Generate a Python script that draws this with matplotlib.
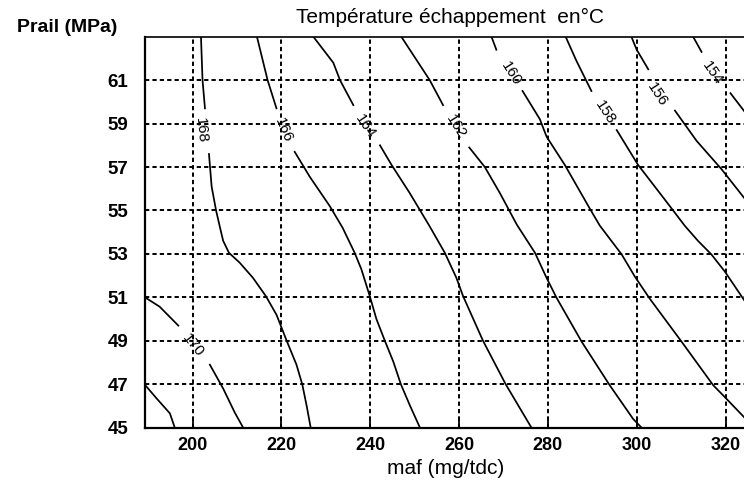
import numpy as np
import matplotlib.pyplot as plt

# contour lines, nan = gap left for the inline label
x_172 = [189.3, 191.9, 194.9, 196.0]
y_172 = [46.97, 46.35, 45.66, 45.0]

x_170 = [189.3, 192.6, 196.8, np.nan, 203.9, 206.9, 209.5, 211.4]
y_170 = [51.0, 50.57, 49.7, np.nan, 47.9, 46.8, 45.7, 45.0]

x_168 = [201.9, 202.25, 202.8, np.nan, 203.7, 204.3, 205.3, 206.2, 206.9, 208.2, 210.6,
         213.6, 216.5, 218.9, 221.2, 223.4, 224.7, 225.7, 226.6]
y_168 = [63.0, 61.0, 59.7, np.nan, 57.6, 56.1, 55.0, 54.2, 53.6, 53.05, 52.6,
         51.9, 51.06, 50.2, 49.0, 47.9, 47.0, 46.0, 45.0]

x_166 = [214.5, 216.9, 218.9, np.nan, 223.0, 226.4, 230.9, 233.8, 236.5, 238.0, 239.9,
         241.4, 243.3, 245.2, 246.9, 248.9, 251.2]
y_166 = [63.0, 61.0, 59.7, np.nan, 57.7, 56.55, 55.2, 54.2, 53.05, 52.3, 51.06,
         50.0, 49.0, 48.04, 47.0, 46.04, 45.0]

x_164 = [227.2, 231.7, 233.2, 236.2, np.nan, 242.2, 244.8, 248.9, 253.3, 256.8, 259.4,
         260.9, 265.4, 270.5, 276.3]
y_164 = [63.0, 61.8, 61.0, 59.85, np.nan, 58.0, 57.1, 55.8, 54.3, 53.05, 51.9,
         51.06, 49.0, 47.0, 45.0]

x_162 = [247.0, 253.4, 256.4, np.nan, 262.3, 265.8, 269.2, 273.0, 277.1, 279.7, 281.9,
         287.6, 293.9, 299.2, 301.1]
y_162 = [63.0, 61.0, 59.85, np.nan, 57.9, 57.0, 55.8, 54.35, 53.05, 51.9, 51.0,
         48.96, 46.96, 45.4, 45.0]

x_160 = [267.3, 268.4, np.nan, 274.3, 278.2, 279.7, 283.8, 289.4, 291.7, 296.6, 299.6,
         302.9, 310.1, 317.2, 319.4, 324.1, 326.5]
y_160 = [63.0, 62.4, np.nan, 60.5, 59.2, 58.4, 57.1, 55.1, 54.3, 52.98, 51.95,
         50.95, 48.96, 46.96, 46.5, 45.5, 45.0]

x_158 = [284.0, 286.4, 289.8, np.nan, 295.5, 300.3, 305.2, 308.2, 310.8, 313.8, 316.8,
         319.8, 324.1, 327.0]
y_158 = [63.0, 61.9, 60.5, np.nan, 58.7, 57.1, 55.8, 55.0, 54.3, 53.6, 52.98,
         52.2, 50.9, 50.0]

x_156 = [298.8, 300.0, 302.6, np.nan, 308.6, 313.5, 319.1, 324.1, 327.0]
y_156 = [63.0, 62.4, 61.5, np.nan, 59.6, 58.2, 56.9, 55.6, 54.8]

x_154 = [312.7, 314.6, np.nan, 321.1, 324.1, 327.0]
y_154 = [63.0, 62.3, np.nan, 60.4, 59.6, 58.8]

label_levels = [170, 168, 166, 164, 162, 160, 158, 156, 154]
label_x = [200.1, 202.0, 220.4, 238.8, 259.4, 271.8, 292.8, 304.6, 317.0]
label_y = [48.8, 58.7, 58.7, 58.85, 58.85, 61.3, 59.5, 60.35, 61.3]

xticks = [200, 220, 240, 260, 280, 300, 320]
yticks = [45, 47, 49, 51, 53, 55, 57, 59, 61]

contours = {172: (x_172, y_172), 170: (x_170, y_170), 168: (x_168, y_168),
            166: (x_166, y_166), 164: (x_164, y_164), 162: (x_162, y_162),
            160: (x_160, y_160), 158: (x_158, y_158), 156: (x_156, y_156),
            154: (x_154, y_154)}

plt.rcParams['font.family'] = ['Liberation Sans', 'DejaVu Sans']

fig = plt.figure(figsize=(7.44, 4.88), dpi=100)
ax = fig.add_axes([0.1949, 0.1236, 0.840, 0.8012])
ax.set_xlim(189.3, 330)
ax.set_ylim(45, 63)

ax.set_xticks(xticks)
ax.set_yticks(yticks)
ax.grid(True, color='black', linestyle=(0, (2.2, 1.6)), linewidth=1.4)
ax.set_axisbelow(True)

for lev, (xs, ys) in contours.items():
    ax.plot(xs, ys, color='black', linewidth=1.25)

# inline labels, turned along the line
for lev, lx, ly in zip(label_levels, label_x, label_y):
    xs, ys = contours[lev]
    k = int(np.where(np.isnan(xs))[0][0])
    p0 = ax.transData.transform((xs[k - 1], ys[k - 1]))
    p1 = ax.transData.transform((xs[k + 1], ys[k + 1]))
    ang = np.degrees(np.arctan2(p1[1] - p0[1], p1[0] - p0[0]))
    ax.text(lx, ly, str(lev), rotation=ang, rotation_mode='anchor',
            ha='center', va='center', fontsize=11, color='black')

ax.tick_params(axis='x', direction='in', length=7, width=1.3, pad=7,
               labelsize=13)
ax.tick_params(axis='y', length=0, pad=12, labelsize=13.5)
for lbl in ax.get_xticklabels():
    lbl.set_fontweight('bold')
for lbl in ax.get_yticklabels():
    lbl.set_fontweight('bold')

for side in ['left', 'bottom']:
    ax.spines[side].set_linewidth(1.6)
ax.spines['top'].set_linewidth(1.2)

fig.text(450 / 744, 1 - 17 / 488, 'Température échappement  en°C',
         ha='center', va='center', fontsize=15)
fig.text(17 / 744, 1 - 27 / 488, 'Prail (MPa)', ha='left', va='center',
         fontsize=14, fontweight='bold')
fig.text(446 / 744, 1 - 469 / 488, 'maf (mg/tdc)', ha='center', va='center',
         fontsize=15)

fig.savefig('out.png', dpi=100)
plt.close(fig)
